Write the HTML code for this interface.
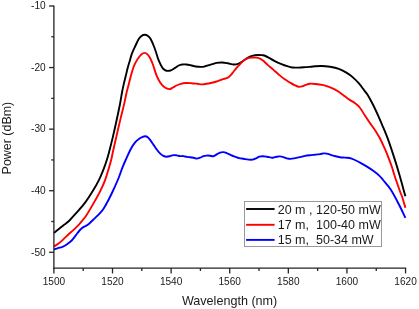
<!DOCTYPE html>
<html><head><meta charset="utf-8"><title>Power vs Wavelength</title>
<style>
html,body{margin:0;padding:0;background:#fff;}
body{width:419px;height:309px;overflow:hidden;}
svg{display:block;font-family:"Liberation Sans",sans-serif;}
</style></head><body>
<svg width="419" height="309" viewBox="0 0 419 309">
<rect width="419" height="309" fill="#fff"/>
<g fill="none" stroke-width="1.9" stroke-linejoin="round" stroke-linecap="butt">
<path stroke="#000000" d="M53.90 232.90 C54.78 232.20 57.45 230.08 59.20 228.70 C60.95 227.32 62.65 226.02 64.40 224.60 C66.15 223.18 67.72 222.15 69.70 220.20 C71.68 218.25 73.73 215.83 76.30 212.90 C78.87 209.97 82.38 206.20 85.10 202.60 C87.82 199.00 90.30 195.05 92.60 191.30 C94.90 187.55 97.02 183.93 98.90 180.10 C100.78 176.27 102.53 171.82 103.90 168.30 C105.27 164.78 106.27 161.60 107.10 159.00 C107.93 156.40 107.97 156.27 108.90 152.70 C109.83 149.13 111.45 142.83 112.70 137.60 C113.95 132.37 115.17 126.98 116.40 121.30 C117.63 115.62 119.18 108.22 120.10 103.50 C121.02 98.78 121.30 96.18 121.90 93.00 C122.50 89.82 123.05 87.27 123.70 84.40 C124.35 81.53 125.12 78.60 125.80 75.80 C126.48 73.00 127.12 70.17 127.80 67.60 C128.48 65.03 129.22 62.72 129.90 60.40 C130.58 58.08 131.03 56.02 131.90 53.70 C132.77 51.38 133.98 48.90 135.10 46.50 C136.22 44.10 137.53 41.05 138.60 39.30 C139.67 37.55 140.48 36.77 141.50 36.00 C142.52 35.23 143.62 34.70 144.70 34.70 C145.78 34.70 146.98 35.23 148.00 36.00 C149.02 36.77 149.80 37.55 150.80 39.30 C151.80 41.05 153.05 44.10 154.00 46.50 C154.95 48.90 155.72 51.38 156.50 53.70 C157.28 56.02 157.75 58.12 158.70 60.40 C159.65 62.68 161.15 65.78 162.20 67.40 C163.25 69.02 164.05 69.52 165.00 70.10 C165.95 70.68 166.82 70.90 167.90 70.90 C168.98 70.90 170.30 70.60 171.50 70.10 C172.70 69.60 173.90 68.67 175.10 67.90 C176.30 67.13 177.52 66.07 178.70 65.50 C179.88 64.93 180.90 64.67 182.20 64.50 C183.50 64.33 185.07 64.37 186.50 64.50 C187.93 64.63 189.25 64.97 190.80 65.30 C192.35 65.63 194.00 66.23 195.80 66.50 C197.60 66.77 199.92 66.98 201.60 66.90 C203.28 66.82 204.38 66.38 205.90 66.00 C207.42 65.62 208.93 65.12 210.70 64.60 C212.47 64.08 214.58 63.25 216.50 62.90 C218.42 62.55 220.30 62.43 222.20 62.50 C224.10 62.57 226.00 62.97 227.90 63.30 C229.80 63.63 231.80 64.45 233.60 64.50 C235.40 64.55 237.02 64.27 238.70 63.60 C240.38 62.93 242.15 61.50 243.70 60.50 C245.25 59.50 246.45 58.42 248.00 57.60 C249.55 56.78 251.33 56.03 253.00 55.60 C254.67 55.17 256.45 55.07 258.00 55.00 C259.55 54.93 261.25 55.12 262.30 55.20 C263.35 55.28 263.25 55.10 264.30 55.50 C265.35 55.90 266.93 56.72 268.60 57.60 C270.27 58.48 272.15 59.72 274.30 60.80 C276.45 61.88 279.35 63.20 281.50 64.10 C283.65 65.00 285.42 65.63 287.20 66.20 C288.98 66.77 290.28 67.27 292.20 67.50 C294.12 67.73 296.43 67.67 298.70 67.60 C300.97 67.53 303.42 67.28 305.80 67.10 C308.18 66.92 310.42 66.68 313.00 66.50 C315.58 66.32 318.45 65.95 321.30 66.00 C324.15 66.05 327.18 66.33 330.10 66.80 C333.02 67.27 336.08 67.83 338.80 68.80 C341.52 69.77 344.10 71.22 346.40 72.60 C348.70 73.98 350.52 75.30 352.60 77.10 C354.68 78.90 356.93 81.15 358.90 83.40 C360.87 85.65 362.88 88.58 364.40 90.60 C365.92 92.62 366.82 93.63 368.00 95.50 C369.18 97.37 370.32 99.55 371.50 101.80 C372.68 104.05 373.90 106.50 375.10 109.00 C376.30 111.50 377.50 114.08 378.70 116.80 C379.90 119.52 381.10 122.45 382.30 125.30 C383.50 128.15 384.75 131.02 385.90 133.90 C387.05 136.78 387.82 138.65 389.20 142.60 C390.58 146.55 392.53 152.38 394.20 157.60 C395.87 162.82 397.73 168.88 399.20 173.90 C400.67 178.92 401.97 183.98 403.00 187.70 C404.03 191.42 405.00 194.78 405.40 196.20"/>
<path stroke="#ff0000" d="M53.90 246.40 C54.57 246.02 56.37 245.23 57.90 244.10 C59.43 242.97 61.35 241.20 63.10 239.60 C64.85 238.00 66.65 236.12 68.40 234.50 C70.15 232.88 71.85 231.55 73.60 229.90 C75.35 228.25 77.37 226.25 78.90 224.60 C80.43 222.95 81.60 221.47 82.80 220.00 C84.00 218.53 84.25 218.70 86.10 215.80 C87.95 212.90 91.57 206.68 93.90 202.60 C96.23 198.52 98.23 195.05 100.10 191.30 C101.97 187.55 103.63 183.98 105.10 180.10 C106.57 176.22 107.85 171.52 108.90 168.00 C109.95 164.48 110.77 161.55 111.40 159.00 C112.03 156.45 111.87 156.47 112.70 152.70 C113.53 148.93 115.15 141.83 116.40 136.40 C117.65 130.97 118.88 125.60 120.20 120.10 C121.52 114.60 123.25 107.92 124.30 103.40 C125.35 98.88 125.77 96.17 126.50 93.00 C127.23 89.83 127.97 87.27 128.70 84.40 C129.43 81.53 130.10 78.65 130.90 75.80 C131.70 72.95 132.70 69.53 133.50 67.30 C134.30 65.07 134.87 63.98 135.70 62.40 C136.53 60.82 137.52 59.17 138.50 57.80 C139.48 56.43 140.57 55.02 141.60 54.20 C142.63 53.38 143.72 52.87 144.70 52.90 C145.68 52.93 146.60 53.55 147.50 54.40 C148.40 55.25 149.20 56.32 150.10 58.00 C151.00 59.68 151.85 61.65 152.90 64.50 C153.95 67.35 155.22 72.15 156.40 75.10 C157.58 78.05 158.80 80.30 160.00 82.20 C161.20 84.10 162.40 85.42 163.60 86.50 C164.80 87.58 166.12 88.28 167.20 88.70 C168.28 89.12 169.15 89.20 170.10 89.00 C171.05 88.80 171.83 88.08 172.90 87.50 C173.97 86.92 175.18 86.12 176.50 85.50 C177.82 84.88 179.25 84.22 180.80 83.80 C182.35 83.38 184.02 83.10 185.80 83.00 C187.58 82.90 189.58 83.07 191.50 83.20 C193.42 83.33 195.50 83.60 197.30 83.80 C199.10 84.00 200.75 84.40 202.30 84.40 C203.85 84.40 205.20 84.03 206.60 83.80 C208.00 83.57 209.05 83.38 210.70 83.00 C212.35 82.62 214.58 82.10 216.50 81.50 C218.42 80.90 220.30 80.03 222.20 79.40 C224.10 78.77 226.47 78.42 227.90 77.70 C229.33 76.98 229.85 76.13 230.80 75.10 C231.75 74.07 232.53 72.82 233.60 71.50 C234.67 70.18 236.00 68.57 237.20 67.20 C238.40 65.83 239.60 64.50 240.80 63.30 C242.00 62.10 243.20 60.85 244.40 60.00 C245.60 59.15 246.80 58.60 248.00 58.20 C249.20 57.80 250.28 57.70 251.60 57.60 C252.92 57.50 254.60 57.48 255.90 57.60 C257.20 57.72 258.33 57.90 259.40 58.30 C260.47 58.70 261.60 59.55 262.30 60.00 C263.00 60.45 262.67 60.15 263.60 61.00 C264.53 61.85 266.35 63.70 267.90 65.10 C269.45 66.50 271.12 67.85 272.90 69.40 C274.68 70.95 276.68 72.78 278.60 74.40 C280.52 76.02 282.60 77.80 284.40 79.10 C286.20 80.40 287.73 81.20 289.40 82.20 C291.07 83.20 292.85 84.33 294.40 85.10 C295.95 85.87 297.38 86.60 298.70 86.80 C300.02 87.00 301.12 86.63 302.30 86.30 C303.48 85.97 304.50 85.23 305.80 84.80 C307.10 84.37 308.42 83.83 310.10 83.70 C311.78 83.57 314.25 83.85 315.90 84.00 C317.55 84.15 318.47 84.33 320.00 84.60 C321.53 84.87 323.00 84.98 325.10 85.60 C327.20 86.22 330.47 87.37 332.60 88.30 C334.73 89.23 336.07 90.02 337.90 91.20 C339.73 92.38 341.70 94.00 343.60 95.40 C345.50 96.80 347.38 98.30 349.30 99.60 C351.22 100.90 353.55 102.10 355.10 103.20 C356.65 104.30 357.53 105.07 358.60 106.20 C359.67 107.33 360.42 108.40 361.50 110.00 C362.58 111.60 363.78 113.77 365.10 115.80 C366.42 117.83 368.00 120.17 369.40 122.20 C370.80 124.23 372.32 126.30 373.50 128.00 C374.68 129.70 375.48 130.77 376.50 132.40 C377.52 134.03 378.53 135.78 379.60 137.80 C380.67 139.82 381.80 142.17 382.90 144.50 C384.00 146.83 385.12 149.20 386.20 151.80 C387.28 154.40 388.43 157.53 389.40 160.10 C390.37 162.67 391.25 164.97 392.00 167.20 C392.75 169.43 393.22 171.33 393.90 173.50 C394.58 175.67 395.00 177.00 396.10 180.20 C397.20 183.40 399.48 189.90 400.50 192.70 C401.52 195.50 401.38 194.48 402.20 197.00 C403.02 199.52 404.87 206.00 405.40 207.80"/>
<path stroke="#0000ff" d="M53.90 249.50 C54.57 249.27 56.47 248.55 57.90 248.10 C59.33 247.65 60.97 247.45 62.50 246.80 C64.03 246.15 65.57 245.25 67.10 244.20 C68.63 243.15 70.28 241.92 71.70 240.50 C73.12 239.08 74.30 237.37 75.60 235.70 C76.90 234.03 78.27 231.88 79.50 230.50 C80.73 229.12 81.68 228.30 83.00 227.40 C84.32 226.50 85.87 226.22 87.40 225.10 C88.93 223.98 90.85 221.95 92.20 220.70 C93.55 219.45 94.20 218.87 95.50 217.60 C96.80 216.33 98.63 214.63 100.00 213.10 C101.37 211.57 102.33 210.50 103.70 208.40 C105.07 206.30 106.63 203.48 108.20 200.50 C109.77 197.52 111.40 194.17 113.10 190.50 C114.80 186.83 116.85 182.32 118.40 178.50 C119.95 174.68 121.08 170.92 122.40 167.60 C123.72 164.28 124.90 161.70 126.30 158.60 C127.70 155.50 129.33 151.70 130.80 149.00 C132.27 146.30 133.67 144.13 135.10 142.40 C136.53 140.67 138.13 139.53 139.40 138.60 C140.67 137.67 141.75 137.20 142.70 136.80 C143.65 136.40 144.27 136.13 145.10 136.20 C145.93 136.27 146.83 136.53 147.70 137.20 C148.57 137.87 149.35 138.97 150.30 140.20 C151.25 141.43 152.33 143.07 153.40 144.60 C154.47 146.13 155.60 147.93 156.70 149.40 C157.80 150.87 158.88 152.32 160.00 153.40 C161.12 154.48 162.28 155.35 163.40 155.90 C164.52 156.45 165.58 156.67 166.70 156.70 C167.82 156.73 168.98 156.37 170.10 156.10 C171.22 155.83 172.28 155.22 173.40 155.10 C174.52 154.98 175.68 155.23 176.80 155.40 C177.92 155.57 179.00 155.98 180.10 156.10 C181.20 156.22 182.28 155.97 183.40 156.10 C184.52 156.23 185.68 156.72 186.80 156.90 C187.92 157.08 188.98 157.07 190.10 157.20 C191.22 157.33 192.38 157.47 193.50 157.70 C194.62 157.93 195.70 158.60 196.80 158.60 C197.90 158.60 198.98 158.10 200.10 157.70 C201.22 157.30 202.38 156.55 203.50 156.20 C204.62 155.85 205.72 155.68 206.80 155.60 C207.88 155.52 208.90 155.60 210.00 155.70 C211.10 155.80 212.28 156.42 213.40 156.20 C214.52 155.98 215.60 155.00 216.70 154.40 C217.80 153.80 218.88 152.98 220.00 152.60 C221.12 152.22 222.28 152.02 223.40 152.10 C224.52 152.18 225.45 152.60 226.70 153.10 C227.95 153.60 229.50 154.50 230.90 155.10 C232.30 155.70 233.72 156.20 235.10 156.70 C236.48 157.20 237.82 157.77 239.20 158.10 C240.58 158.43 241.87 158.45 243.40 158.70 C244.93 158.95 246.87 159.45 248.40 159.60 C249.93 159.75 251.33 159.80 252.60 159.60 C253.87 159.40 254.88 158.88 256.00 158.40 C257.12 157.92 258.20 157.07 259.30 156.70 C260.40 156.33 261.35 156.20 262.60 156.20 C263.85 156.20 265.40 156.47 266.80 156.70 C268.20 156.93 269.92 157.43 271.00 157.60 C272.08 157.77 272.35 157.85 273.30 157.70 C274.25 157.55 275.58 156.92 276.70 156.70 C277.82 156.48 278.88 156.33 280.00 156.40 C281.12 156.47 282.28 156.77 283.40 157.10 C284.52 157.43 285.45 158.10 286.70 158.40 C287.95 158.70 289.50 158.95 290.90 158.90 C292.30 158.85 293.57 158.40 295.10 158.10 C296.63 157.80 298.43 157.47 300.10 157.10 C301.77 156.73 303.43 156.22 305.10 155.90 C306.77 155.58 308.43 155.40 310.10 155.20 C311.77 155.00 313.43 154.88 315.10 154.70 C316.77 154.52 318.70 154.32 320.10 154.10 C321.50 153.88 322.38 153.48 323.50 153.40 C324.62 153.32 325.70 153.40 326.80 153.60 C327.90 153.80 328.85 154.22 330.10 154.60 C331.35 154.98 332.65 155.47 334.30 155.90 C335.95 156.33 338.17 156.92 340.00 157.20 C341.83 157.48 343.37 157.37 345.30 157.60 C347.23 157.83 349.30 157.85 351.60 158.60 C353.90 159.35 356.60 160.80 359.10 162.10 C361.60 163.40 364.30 164.98 366.60 166.40 C368.90 167.82 370.80 169.07 372.90 170.60 C375.00 172.13 377.50 174.03 379.20 175.60 C380.90 177.17 381.18 177.67 383.10 180.00 C385.02 182.33 388.10 185.60 390.70 189.60 C393.30 193.60 396.25 199.30 398.70 204.00 C401.15 208.70 404.28 215.50 405.40 217.80"/>
</g>
<g stroke="#222" stroke-width="1.3" fill="none">
<line x1="53.90" y1="5.4" x2="53.90" y2="268.65"/>
<line x1="53.30" y1="268.05" x2="406.15" y2="268.05"/>
<line x1="53.90" y1="268.05" x2="53.90" y2="273.45"/><line x1="83.20" y1="268.05" x2="83.20" y2="270.95"/><line x1="112.51" y1="268.05" x2="112.51" y2="273.45"/><line x1="141.81" y1="268.05" x2="141.81" y2="270.95"/><line x1="171.12" y1="268.05" x2="171.12" y2="273.45"/><line x1="200.42" y1="268.05" x2="200.42" y2="270.95"/><line x1="229.73" y1="268.05" x2="229.73" y2="273.45"/><line x1="259.03" y1="268.05" x2="259.03" y2="270.95"/><line x1="288.33" y1="268.05" x2="288.33" y2="273.45"/><line x1="317.64" y1="268.05" x2="317.64" y2="270.95"/><line x1="346.94" y1="268.05" x2="346.94" y2="273.45"/><line x1="376.25" y1="268.05" x2="376.25" y2="270.95"/><line x1="405.55" y1="268.05" x2="405.55" y2="273.45"/><line x1="53.90" y1="252.30" x2="49.10" y2="252.30"/><line x1="53.90" y1="221.51" x2="51.30" y2="221.51"/><line x1="53.90" y1="190.72" x2="49.10" y2="190.72"/><line x1="53.90" y1="159.94" x2="51.30" y2="159.94"/><line x1="53.90" y1="129.15" x2="49.10" y2="129.15"/><line x1="53.90" y1="98.36" x2="51.30" y2="98.36"/><line x1="53.90" y1="67.57" x2="49.10" y2="67.57"/><line x1="53.90" y1="36.79" x2="51.30" y2="36.79"/><line x1="53.90" y1="6.00" x2="49.10" y2="6.00"/>
</g>
<g font-size="10.1px" fill="#1a1a1a"><text x="53.90" y="284.7" text-anchor="middle">1500</text><text x="112.51" y="284.7" text-anchor="middle">1520</text><text x="171.12" y="284.7" text-anchor="middle">1540</text><text x="229.73" y="284.7" text-anchor="middle">1560</text><text x="288.33" y="284.7" text-anchor="middle">1580</text><text x="346.94" y="284.7" text-anchor="middle">1600</text><text x="405.55" y="284.7" text-anchor="middle">1620</text><text x="45.7" y="255.60" text-anchor="end">-50</text><text x="45.7" y="194.03" text-anchor="end">-40</text><text x="45.7" y="132.45" text-anchor="end">-30</text><text x="45.7" y="70.87" text-anchor="end">-20</text><text x="45.7" y="8.50" text-anchor="end">-10</text></g>
<text x="229.6" y="304.7" font-size="12.6px" text-anchor="middle" fill="#1a1a1a">Wavelength (nm)</text>
<text transform="translate(11.2,138.1) rotate(-90)" font-size="12.45px" text-anchor="middle" fill="#1a1a1a">Power (dBm)</text>
<rect x="244.5" y="201.5" width="137" height="45" fill="#fff" stroke="#999" stroke-width="1"/>
<g stroke-width="1.9">
<line x1="246.1" y1="209.0" x2="274.6" y2="209.0" stroke="#000"/>
<line x1="246.1" y1="224.8" x2="274.6" y2="224.8" stroke="#f00"/>
<line x1="246.1" y1="239.9" x2="274.6" y2="239.9" stroke="#00f"/>
</g>
<g font-size="12.5px" fill="#1a1a1a">
<text y="213.5"><tspan x="277.7">20 m , </tspan><tspan x="316.1">120-50 mW</tspan></text>
<text y="228.9"><tspan x="277.7">17 m,&#160; </tspan><tspan x="316.1">100-40 mW</tspan></text>
<text y="243.8"><tspan x="277.7">15 m,&#160; </tspan><tspan x="316">50-34 mW</tspan></text>
</g>
</svg>
</body></html>
